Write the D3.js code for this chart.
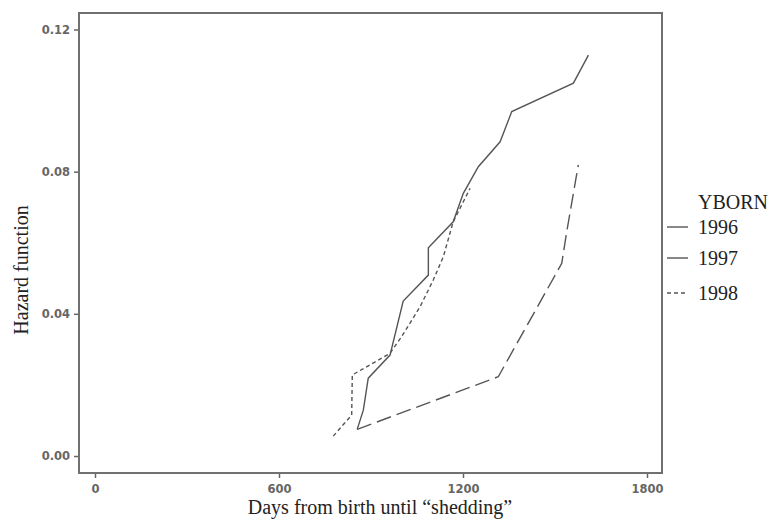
<!DOCTYPE html>
<html>
<head>
<meta charset="utf-8">
<script src="https://cdn.jsdelivr.net/npm/d3@7"></script>
<style>
  body { margin: 0; background: #fff; }
  .tick text { font-family: "DejaVu Sans", sans-serif; font-size: 11.5px; font-weight: bold; fill: #666; }
  .tick line { stroke: #666; stroke-width: 1.5; }
  .title { font-family: "Liberation Serif", "Times New Roman", serif; font-size: 20px; fill: #222; }
</style>
</head>
<body>
<svg width="773" height="522"></svg>
<script>
(function (d3) {
  "use strict";

  // values (days, hazard)
  const days1996 = [855, 875, 891, 962, 1005, 1087, 1087, 1168, 1201, 1250, 1321, 1359, 1560, 1609];
  const hazard1996 = [0.0075, 0.0129, 0.0219, 0.0284, 0.0436, 0.0509, 0.0586, 0.0659, 0.0739, 0.0814, 0.0884, 0.0969, 0.1049, 0.1128];

  const days1997 = [855, 1315, 1522, 1538, 1576];
  const hazard1997 = [0.0075, 0.0223, 0.0542, 0.0630, 0.0819];

  const days1998 = [777, 837, 839, 962, 1000, 1060, 1103, 1136, 1168, 1223];
  const hazard1998 = [0.0056, 0.0115, 0.0228, 0.0289, 0.0336, 0.0420, 0.0495, 0.0561, 0.0659, 0.0753];

  const years = ["1996", "1997", "1998"];
  const xTicks = [0, 600, 1200, 1800];
  const yTicks = [0, 0.04, 0.08, 0.12];

  const svg = d3.select("svg");

  const frame = { left: 79, top: 13, right: 662, bottom: 473 };

  const xScale = d3.scaleLinear().domain([0, 1800]).range([95, 647]);
  const yScale = d3.scaleLinear().domain([0, 0.12]).range([456, 29.5]);

  const zip = (xs, ys) => xs.map((x, i) => ({ days: x, hazard: ys[i] }));
  const series = [
    { name: years[0], data: zip(days1996, hazard1996), dash: null, legendDash: null },
    { name: years[1], data: zip(days1997, hazard1997), dash: "15,6", legendDash: null },
    { name: years[2], data: zip(days1998, hazard1998), dash: "4,3", legendDash: "4,3" }
  ];

  // axes
  const yAxisG = svg.append("g")
    .attr("transform", `translate(${frame.left},0)`)
    .call(d3.axisLeft(yScale).tickValues(yTicks).tickFormat(d3.format(".2f")).tickSize(5).tickPadding(4));
  yAxisG.select(".domain").remove();

  const xAxisG = svg.append("g")
    .attr("transform", `translate(0,${frame.bottom})`)
    .call(d3.axisBottom(xScale).tickValues(xTicks).tickFormat(d3.format("d")).tickSize(5).tickPadding(7));
  xAxisG.select(".domain").remove();

  // frame
  svg.append("rect")
    .attr("x", frame.left)
    .attr("y", frame.top)
    .attr("width", frame.right - frame.left)
    .attr("height", frame.bottom - frame.top)
    .attr("fill", "none")
    .attr("stroke", "#707070")
    .attr("stroke-width", 2);

  const lineGenerator = d3.line()
    .x((d) => xScale(d.days))
    .y((d) => yScale(d.hazard));

  svg.selectAll(".line-path")
    .data(series)
    .enter()
    .append("path")
    .attr("class", "line-path")
    .attr("d", (d) => lineGenerator(d.data))
    .attr("fill", "none")
    .attr("stroke", "#555")
    .attr("stroke-width", 1.4)
    .attr("stroke-dasharray", (d) => d.dash);

  // axis titles
  svg.append("text")
    .attr("class", "title")
    .attr("x", 380)
    .attr("y", 514)
    .attr("text-anchor", "middle")
    .text("Days from birth until \u201cshedding\u201d");

  svg.append("text")
    .attr("class", "title")
    .attr("transform", "translate(28,270) rotate(-90)")
    .attr("text-anchor", "middle")
    .text("Hazard function");

  // legend
  const legend = svg.append("g");
  legend.append("text")
    .attr("class", "title")
    .attr("x", 698)
    .attr("y", 209)
    .text("YBORN");

  const legendY = [227, 258, 293];
  const item = legend.selectAll(".item")
    .data(series)
    .enter()
    .append("g")
    .attr("class", "item")
    .attr("transform", (d, i) => `translate(0,${legendY[i]})`);

  item.append("line")
    .attr("x1", 667)
    .attr("x2", 688)
    .attr("stroke", "#555")
    .attr("stroke-width", 1.4)
    .attr("stroke-dasharray", (d) => d.legendDash);

  item.append("text")
    .attr("class", "title")
    .attr("x", 698)
    .attr("y", 6.5)
    .text((d) => d.name);
})(d3);
</script>
</body>
</html>
